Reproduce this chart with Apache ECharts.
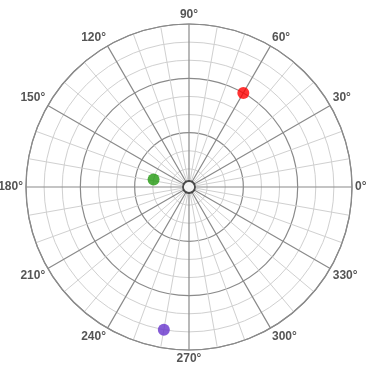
<!DOCTYPE html>
<html>
<head>
<meta charset="utf-8">
<script src="https://cdn.jsdelivr.net/npm/echarts@6/dist/echarts.min.js"></script>
<style>html,body{margin:0;padding:0;background:#fff}#c{width:370px;height:370px}</style>
</head>
<body>
<div id="c"></div>
<script>
// [radius, angle in degrees]
const redPoints = [[6, 60]];
const greenPoints = [[2, 168]];
const purplePoints = [[8, 260]];
const originPoint = [[0, 0]];
const angleTicks = [0, 30, 60, 90, 120, 150, 180, 210, 240, 270, 300, 330];
const radiusMax = 9;
const radiusStep = 3;

const chart = echarts.init(document.getElementById('c'), null, {renderer: 'canvas'});
chart.setOption({
  animation: false,
  backgroundColor: '#fff',
  polar: { center: [189, 187], radius: 163 },
  angleAxis: {
    type: 'value', min: 0, max: 360, interval: 30, startAngle: 0, clockwise: false,
    axisLine: { show: true, lineStyle: { color: '#8a8a8a', width: 1.2 } },
    axisTick: { show: false },
    axisLabel: {
      margin: 3,
      color: '#555', fontSize: 12, fontWeight: 'bold', fontFamily: 'Liberation Sans, Arial',
      formatter: v => angleTicks.includes(v) ? v + '°' : ''
    },
    splitLine: { show: true, lineStyle: { color: '#8a8a8a', width: 1.2 } },
    minorTick: { show: false, splitNumber: 3 },
    minorSplitLine: { show: true, lineStyle: { color: '#d0d0d0', width: 1 } }
  },
  radiusAxis: {
    type: 'value', min: 0, max: radiusMax, interval: radiusStep,
    axisLine: { show: false }, axisTick: { show: false }, axisLabel: { show: false },
    splitLine: { show: true, lineStyle: { color: '#8a8a8a', width: 1.2 } },
    minorTick: { show: false, splitNumber: 3 },
    minorSplitLine: { show: true, lineStyle: { color: '#d0d0d0', width: 1 } }
  },
  series: [
    { type: 'scatter', coordinateSystem: 'polar', data: redPoints, symbolSize: 12, itemStyle: { color: '#ff0000' } },
    { type: 'scatter', coordinateSystem: 'polar', data: greenPoints, symbolSize: 12, itemStyle: { color: '#22990f' } },
    { type: 'scatter', coordinateSystem: 'polar', data: purplePoints, symbolSize: 12, itemStyle: { color: '#6633cc' } },
    { type: 'scatter', coordinateSystem: 'polar', data: originPoint, symbolSize: 12, itemStyle: { color: '#fff', borderColor: '#222', borderWidth: 1.8 } }
  ]
});
</script>
</body>
</html>
